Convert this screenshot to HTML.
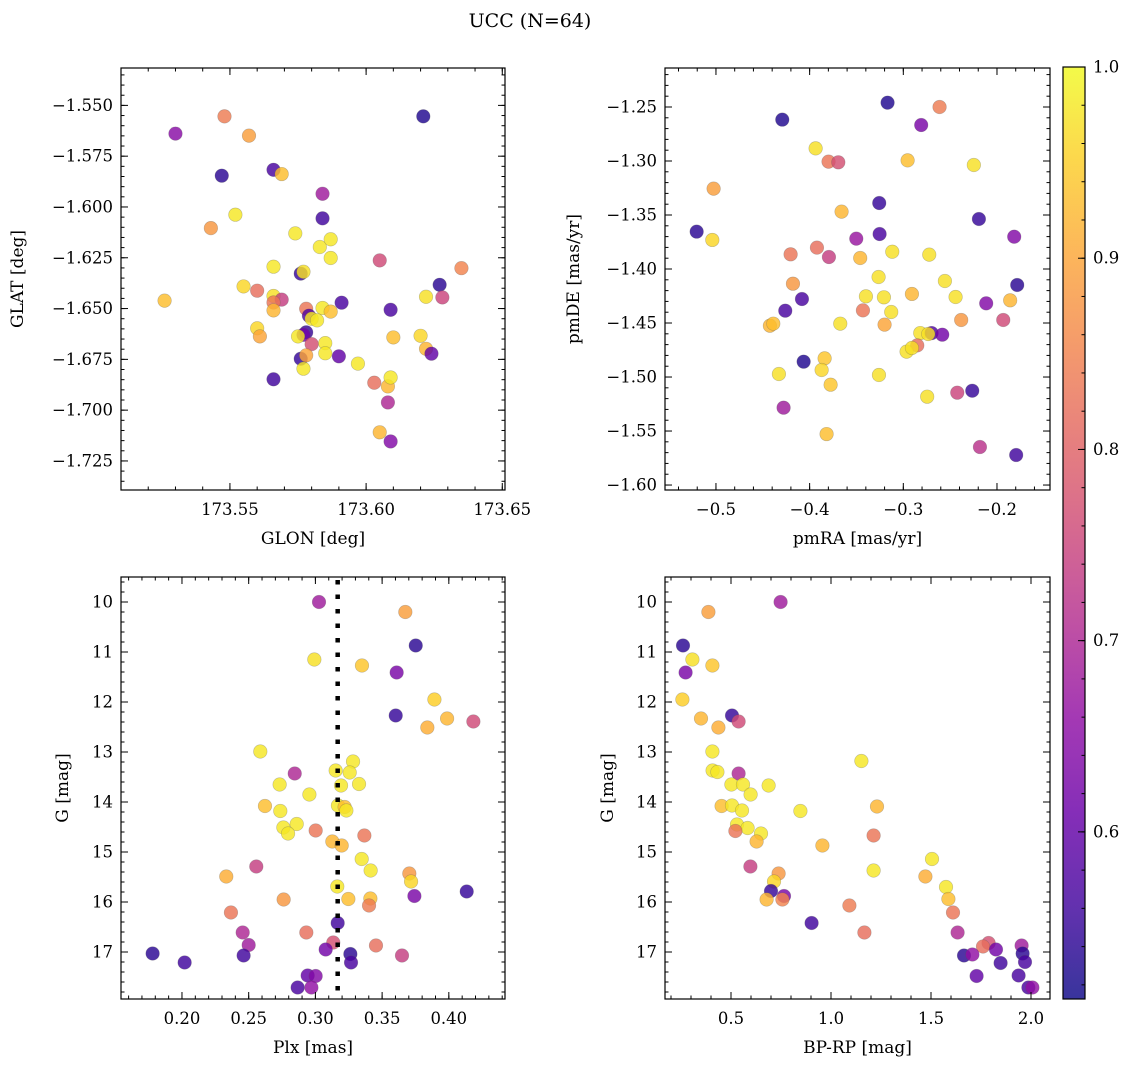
<!DOCTYPE html>
<html><head><meta charset="utf-8"><style>
html,body{margin:0;padding:0;background:#fff;}
svg{display:block;font-family:"DejaVu Serif","Liberation Serif",serif;}
</style></head><body>
<svg id="fig" width="1136" height="1067" viewBox="0 0 1136 1067" xmlns="http://www.w3.org/2000/svg">
<text x="530" y="27" font-size="19" text-anchor="middle">UCC (N=64)</text>
</svg>
<script>
// ---- Panel 1: GLON vs GLAT ----
const p1Glon=[173.530,173.548,173.557,173.621,173.547,173.566,173.569,173.584,173.584,173.552,173.543,173.574,173.583,173.587,173.587,173.605,173.635,173.566,173.576,173.577,173.627,173.526,173.555,173.560,173.566,173.569,173.566,173.566,173.622,173.628,173.591,173.578,173.584,173.587,173.579,173.580,173.582,173.609,173.560,173.561,173.578,173.577,173.575,173.580,173.585,173.585,173.610,173.620,173.622,173.624,173.576,173.578,173.577,173.590,173.597,173.566,173.603,173.608,173.609,173.608,173.605,173.609];
const p1Glat=[-1.5639,-1.5554,-1.5649,-1.5554,-1.5846,-1.5817,-1.5838,-1.5935,-1.6056,-1.6038,-1.6104,-1.6130,-1.6197,-1.6159,-1.6251,-1.6263,-1.6301,-1.6294,-1.6328,-1.6319,-1.6383,-1.6461,-1.6391,-1.6412,-1.6438,-1.6456,-1.6470,-1.6509,-1.6442,-1.6445,-1.6471,-1.6501,-1.6497,-1.6515,-1.6535,-1.6550,-1.6558,-1.6506,-1.6597,-1.6637,-1.6617,-1.6629,-1.6637,-1.6675,-1.6670,-1.6720,-1.6642,-1.6634,-1.6698,-1.6722,-1.6747,-1.6730,-1.6796,-1.6735,-1.6771,-1.6848,-1.6865,-1.6883,-1.6839,-1.6962,-1.7109,-1.7154];
const p1Prob=[0.65,0.84,0.89,0.53,0.54,0.57,0.93,0.68,0.56,0.98,0.88,0.98,0.98,0.98,0.98,0.76,0.85,0.98,0.55,0.97,0.54,0.93,0.96,0.82,0.97,0.74,0.83,0.92,0.97,0.75,0.57,0.83,0.98,0.93,0.58,0.98,0.98,0.57,0.96,0.90,0.55,0.62,0.98,0.77,0.98,0.98,0.93,0.96,0.92,0.60,0.55,0.90,0.98,0.60,0.98,0.56,0.82,0.92,0.98,0.70,0.92,0.64];
const p1YTickLabels=['\u22121.550','\u22121.575','\u22121.600','\u22121.625','\u22121.650','\u22121.675','\u22121.700','\u22121.725'];
// ---- Panel 2: pmRA vs pmDE ----
const p2PmRA=[-0.3168,-0.2613,-0.2809,-0.4292,-0.3936,-0.3798,-0.3694,-0.2954,-0.2247,-0.5025,-0.3257,-0.2193,-0.3659,-0.5206,-0.5039,-0.3502,-0.3253,-0.1816,-0.4203,-0.3922,-0.3794,-0.3460,-0.3118,-0.2723,-0.3264,-0.4178,-0.2556,-0.1784,-0.4082,-0.3399,-0.3207,-0.2908,-0.2442,-0.2115,-0.1859,-0.4260,-0.3431,-0.3129,-0.4424,-0.4388,-0.3673,-0.3200,-0.2382,-0.1933,-0.2819,-0.2698,-0.2584,-0.2734,-0.2851,-0.2965,-0.2908,-0.4064,-0.3840,-0.4328,-0.3872,-0.3260,-0.3776,-0.2745,-0.2424,-0.2264,-0.4278,-0.3819,-0.2182,-0.1795];
const p2PmDE=[-1.2460,-1.2500,-1.2667,-1.2617,-1.2883,-1.3006,-1.3012,-1.2994,-1.3037,-1.3256,-1.3389,-1.3537,-1.3469,-1.3654,-1.3731,-1.3719,-1.3676,-1.3701,-1.3864,-1.3802,-1.3889,-1.3898,-1.3840,-1.3867,-1.4074,-1.4136,-1.4111,-1.4148,-1.4278,-1.4253,-1.4262,-1.4231,-1.4259,-1.4318,-1.4290,-1.4386,-1.4383,-1.4398,-1.4525,-1.4506,-1.4506,-1.4515,-1.4472,-1.4472,-1.4593,-1.4593,-1.4608,-1.4602,-1.4707,-1.4765,-1.4731,-1.4858,-1.4827,-1.4972,-1.4935,-1.4981,-1.5071,-1.5182,-1.5145,-1.5127,-1.5284,-1.5528,-1.5648,-1.5722];
const p2Prob=[0.53,0.84,0.63,0.53,0.97,0.83,0.77,0.93,0.97,0.89,0.55,0.55,0.92,0.54,0.96,0.67,0.57,0.64,0.83,0.82,0.74,0.92,0.97,0.97,0.97,0.88,0.97,0.54,0.57,0.97,0.97,0.92,0.97,0.64,0.92,0.57,0.83,0.97,0.92,0.93,0.97,0.90,0.88,0.76,0.97,0.58,0.62,0.97,0.82,0.97,0.97,0.53,0.94,0.97,0.96,0.97,0.94,0.97,0.75,0.55,0.68,0.93,0.72,0.56];
// ---- Panel 3: Plx vs G ----
const p3Plx=[0.3027,0.3674,0.3752,0.2992,0.3349,0.3609,0.3892,0.3602,0.3987,0.3839,0.4184,0.2587,0.2845,0.3152,0.3282,0.3257,0.2732,0.3192,0.3327,0.2955,0.2622,0.2737,0.3169,0.3219,0.3232,0.2760,0.2860,0.2795,0.3002,0.3367,0.3127,0.3197,0.3347,0.3414,0.2557,0.2332,0.3704,0.3717,0.3164,0.4134,0.3742,0.2762,0.3247,0.3412,0.3402,0.2367,0.3167,0.2455,0.2932,0.2500,0.3134,0.3077,0.3454,0.1780,0.2462,0.3262,0.3267,0.3649,0.2020,0.2942,0.3002,0.2867,0.2970];
const p3G=[10.00,10.20,10.87,11.15,11.27,11.41,11.95,12.27,12.33,12.51,12.39,12.99,13.43,13.37,13.19,13.41,13.65,13.67,13.64,13.85,14.08,14.18,14.07,14.10,14.17,14.51,14.44,14.63,14.57,14.67,14.79,14.87,15.14,15.37,15.29,15.49,15.43,15.59,15.69,15.79,15.88,15.95,15.94,15.93,16.07,16.21,16.42,16.61,16.61,16.86,16.81,16.95,16.87,17.03,17.07,17.04,17.21,17.07,17.21,17.47,17.48,17.71,17.71];
const p3Prob=[0.68,0.89,0.54,0.97,0.94,0.63,0.95,0.55,0.92,0.91,0.76,0.98,0.70,0.98,0.98,0.98,0.98,0.98,0.98,0.98,0.93,0.98,0.98,0.93,0.98,0.98,0.98,0.98,0.83,0.83,0.92,0.92,0.98,0.98,0.74,0.91,0.88,0.96,0.98,0.55,0.63,0.88,0.93,0.93,0.84,0.83,0.56,0.70,0.82,0.68,0.77,0.62,0.82,0.54,0.56,0.54,0.57,0.74,0.56,0.60,0.64,0.57,0.66];
const plxMedian=0.3167;
// ---- Panel 4: BP-RP vs G ----
const p4Color=[0.748,0.387,0.260,0.307,0.407,0.273,0.257,0.505,0.350,0.437,0.538,0.407,1.152,0.538,0.408,0.432,0.502,0.560,0.688,0.598,0.453,0.505,0.555,0.847,1.230,0.530,0.583,0.522,0.650,0.628,0.957,1.213,1.505,1.213,0.597,1.472,0.738,0.715,1.575,0.700,0.765,0.678,1.587,0.757,1.092,1.610,0.903,1.633,1.167,1.788,1.760,1.825,1.953,1.665,1.707,1.958,1.970,1.848,1.728,1.938,1.987,2.007];
const p4G=[10.00,10.20,10.87,11.15,11.27,11.41,11.95,12.27,12.33,12.51,12.39,12.99,13.18,13.43,13.37,13.40,13.65,13.65,13.67,13.85,14.08,14.07,14.17,14.18,14.09,14.45,14.52,14.58,14.63,14.79,14.87,14.67,15.14,15.37,15.29,15.49,15.43,15.59,15.70,15.78,15.88,15.95,15.94,15.95,16.07,16.21,16.42,16.61,16.61,16.82,16.89,16.95,16.87,17.07,17.05,17.03,17.20,17.22,17.48,17.47,17.71,17.71];
const p4Prob=[0.68,0.89,0.54,0.97,0.94,0.63,0.95,0.55,0.92,0.91,0.76,0.98,0.98,0.70,0.98,0.98,0.98,0.98,0.98,0.98,0.93,0.98,0.98,0.98,0.92,0.98,0.98,0.83,0.98,0.92,0.92,0.83,0.98,0.98,0.74,0.91,0.88,0.96,0.98,0.55,0.63,0.92,0.93,0.85,0.84,0.83,0.56,0.70,0.82,0.77,0.82,0.62,0.68,0.54,0.66,0.54,0.57,0.56,0.60,0.57,0.57,0.66];
// ---- Colorbar ----
const cbTicks=[0.6,0.7,0.8,0.9,1.0];
const cbMin=0.5126, cbMax=1.0;

const NS="http://www.w3.org/2000/svg";
const svg=document.getElementById('fig');
function mk(tag,attrs,parent){const e=document.createElementNS(NS,tag);for(const k in attrs)e.setAttribute(k,attrs[k]);(parent||svg).appendChild(e);return e;}
const plasma=[[13,8,135],[65,4,157],[106,0,168],[143,13,164],[177,42,144],[204,71,120],[225,100,98],[242,132,75],[252,166,54],[252,206,37],[240,249,33]];
function cmap(t){t=Math.max(0,Math.min(1,t));const f=t*10,i=Math.min(9,Math.floor(f)),r=f-i;const a=plasma[i],b=plasma[i+1];return `rgb(${Math.round(a[0]+(b[0]-a[0])*r)},${Math.round(a[1]+(b[1]-a[1])*r)},${Math.round(a[2]+(b[2]-a[2])*r)})`;}
function pc(p){return cmap((p-cbMin)/(cbMax-cbMin));}
const TF=16.5, LF=17;

function panel(o){
  const g=mk('g',{});
  
  
  const sx=v=>o.x0+(v-o.xmin)/(o.xmax-o.xmin)*(o.x1-o.x0);
  const sy=v=>o.invert? o.y0+(v-o.ymin)/(o.ymax-o.ymin)*(o.y1-o.y0) : o.y1-(v-o.ymin)/(o.ymax-o.ymin)*(o.y1-o.y0);
  const cp=mk('clipPath',{id:o.name+'-clip'},g);mk('rect',{x:o.x0,y:o.y0,width:o.x1-o.x0,height:o.y1-o.y0},cp);
  const pts=mk('g',{'clip-path':`url(#${o.name}-clip)`},g);
  for(let i=0;i<o.xs.length;i++){
    const c=mk('circle',{cx:sx(o.xs[i]),cy:sy(o.ys[i]),r:6.8,fill:pc(o.ps[i]),'fill-opacity':0.82,stroke:'#555','stroke-opacity':0.35,'stroke-width':0.6},pts);
    
    
  }
  if(o.vline!==undefined){const l=mk('line',{x1:sx(o.vline),x2:sx(o.vline),y1:o.y0+3,y2:o.y1,stroke:'#000','stroke-width':4.5,'stroke-dasharray':'4.5 10'},pts);
    
    }
  mk('rect',{x:o.x0,y:o.y0,width:o.x1-o.x0,height:o.y1-o.y0,fill:'none',stroke:'#000','stroke-width':1.2},g);
  const eps=1e-9;
  function xt(v,len){const x=sx(v);if(x<o.x0-0.5||x>o.x1+0.5)return;mk('line',{x1:x,x2:x,y1:o.y1,y2:o.y1-len,stroke:'#000','stroke-width':1},g);mk('line',{x1:x,x2:x,y1:o.y0,y2:o.y0+len,stroke:'#000','stroke-width':1},g);}
  function yt(v,len){const y=sy(v);if(y<o.y0-0.5||y>o.y1+0.5)return;mk('line',{x1:o.x0,x2:o.x0+len,y1:y,y2:y,stroke:'#000','stroke-width':1},g);mk('line',{x1:o.x1,x2:o.x1-len,y1:y,y2:y,stroke:'#000','stroke-width':1},g);}
  for(let v=Math.ceil(Math.min(o.xmin,o.xmax)/o.xminor)*o.xminor;v<=Math.max(o.xmin,o.xmax)+eps;v+=o.xminor)xt(v,3.5);
  for(let v=Math.ceil(Math.min(o.ymin,o.ymax)/o.yminor)*o.yminor;v<=Math.max(o.ymin,o.ymax)+eps;v+=o.yminor)yt(v,3.5);
  o.xticks.forEach((v,i)=>{xt(v,7);const t=mk('text',{x:sx(v),y:o.y1+25,'font-size':TF,'text-anchor':'middle'},g);t.textContent=o.xfmt(v,i);
    
    });
  o.yticks.forEach((v,i)=>{yt(v,7);const t=mk('text',{x:o.x0-8,y:sy(v)+5.5,'font-size':TF,'text-anchor':'end'},g);t.textContent=o.yfmt(v,i);
    
    });
  const xl=mk('text',{x:(o.x0+o.x1)/2,y:o.y1+54,'font-size':LF,'text-anchor':'middle'},g);xl.textContent=o.xlabel;
  
  
  const yl=mk('text',{x:0,y:0,'font-size':LF,'text-anchor':'middle',transform:`translate(${o.ylx},${(o.y0+o.y1)/2}) rotate(-90)`},g);yl.textContent=o.ylabel;
  
  
}
panel({name:'glon-glat-panel',x0:121,x1:505,y0:68,y1:490,xmin:173.510,xmax:173.651,ymin:-1.7393,ymax:-1.5316,xs:p1Glon,ys:p1Glat,ps:p1Prob,
  xminor:0.01,yminor:0.005,xticks:[173.55,173.60,173.65],yticks:[-1.550,-1.575,-1.600,-1.625,-1.650,-1.675,-1.700,-1.725],
  xfmt:v=>v.toFixed(2),yfmt:(v,i)=>p1YTickLabels[i],xlabel:'GLON [deg]',ylabel:'GLAT [deg]',ylx:23});
panel({name:'pm-panel',x0:665,x1:1050,y0:68,y1:490,xmin:-0.5544,xmax:-0.1434,ymin:-1.6046,ymax:-1.2139,xs:p2PmRA,ys:p2PmDE,ps:p2Prob,
  xminor:0.02,yminor:0.01,xticks:[-0.5,-0.4,-0.3,-0.2],yticks:[-1.25,-1.30,-1.35,-1.40,-1.45,-1.50,-1.55,-1.60],
  xfmt:v=>'\u2212'+Math.abs(v).toFixed(1),yfmt:v=>'\u2212'+Math.abs(v).toFixed(2),xlabel:'pmRA [mas/yr]',ylabel:'pmDE [mas/yr]',ylx:579});
panel({name:'plx-g-panel',x0:121,x1:505,y0:577,y1:999,xmin:0.1543,xmax:0.4421,ymin:9.5,ymax:17.94,invert:true,xs:p3Plx,ys:p3G,ps:p3Prob,vline:plxMedian,
  xminor:0.01,yminor:0.2,xticks:[0.20,0.25,0.30,0.35,0.40],yticks:[10,11,12,13,14,15,16,17],
  xfmt:v=>v.toFixed(2),yfmt:v=>String(v),xlabel:'Plx [mas]',ylabel:'G [mag]',ylx:68});
panel({name:'cmd-panel',x0:665,x1:1050,y0:577,y1:999,xmin:0.17,xmax:2.095,ymin:9.5,ymax:17.94,invert:true,xs:p4Color,ys:p4G,ps:p4Prob,
  xminor:0.1,yminor:0.2,xticks:[0.5,1.0,1.5,2.0],yticks:[10,11,12,13,14,15,16,17],
  xfmt:v=>v.toFixed(1),yfmt:v=>String(v),xlabel:'BP-RP [mag]',ylabel:'G [mag]',ylx:613});

// colorbar
const cb=mk('g',{});


const cx0=1063,cx1=1085,cy0=67,cy1=999;
const defs=mk('defs',{},cb);const lg=mk('linearGradient',{id:'cbg',x1:0,y1:1,x2:0,y2:0},defs);
for(let k=0;k<=20;k++){const t=k/20;mk('stop',{offset:t,'stop-color':cmap(t)},lg);}
mk('rect',{x:cx0,y:cy0,width:cx1-cx0,height:cy1-cy0,fill:'url(#cbg)','fill-opacity':0.82},cb);
mk('rect',{x:cx0,y:cy0,width:cx1-cx0,height:cy1-cy0,fill:'none',stroke:'#000','stroke-width':1.2},cb);
const cbY=v=>cy1-(v-cbMin)/(cbMax-cbMin)*(cy1-cy0);
for(let v=0.52;v<=1.0001;v+=0.02){mk('line',{x1:cx1,x2:cx1-3.5,y1:cbY(v),y2:cbY(v),stroke:'#000','stroke-width':1},cb);}
cbTicks.forEach(v=>{mk('line',{x1:cx1,x2:cx1-7,y1:cbY(v),y2:cbY(v),stroke:'#000','stroke-width':1},cb);
  const t=mk('text',{x:cx1+8,y:cbY(v)+5.5,'font-size':TF},cb);t.textContent=v.toFixed(1);
  
  });
</script>
</body></html>
